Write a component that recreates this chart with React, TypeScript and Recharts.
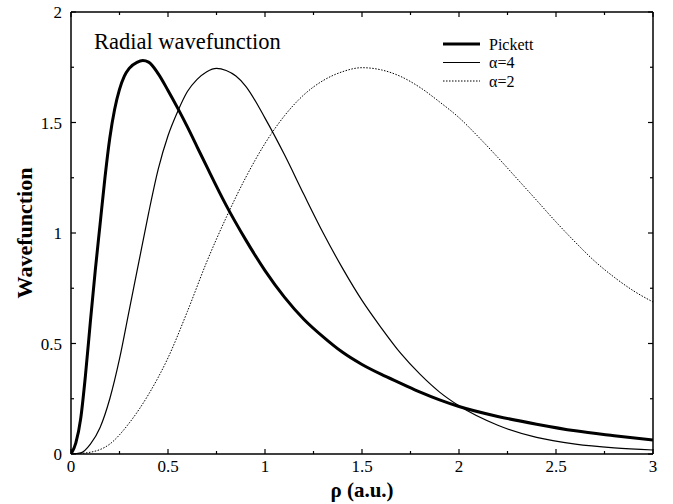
import React from "react";
import { LineChart, Line, XAxis, YAxis } from "recharts";

// Pickett wavefunction
const pickettX = [0, 0.025, 0.05, 0.075, 0.1, 0.125, 0.15, 0.175, 0.2, 0.225, 0.25, 0.275, 0.3, 0.34, 0.37, 0.4, 0.45, 0.5, 0.55, 0.6, 0.65, 0.7, 0.8, 0.9, 1.0, 1.1, 1.2, 1.3, 1.4, 1.5, 1.6, 1.7, 1.8, 1.9, 2.0, 2.2, 2.4, 2.6, 2.8, 3.0];
const pickettY = [0, 0.05, 0.16, 0.36, 0.6, 0.83, 1.04, 1.25, 1.43, 1.56, 1.65, 1.71, 1.745, 1.772, 1.78, 1.773, 1.72, 1.645, 1.565, 1.48, 1.39, 1.3, 1.125, 0.97, 0.83, 0.71, 0.61, 0.53, 0.46, 0.405, 0.36, 0.32, 0.28, 0.245, 0.215, 0.17, 0.135, 0.105, 0.083, 0.063];

// alpha = 4
const alpha4X = [0, 0.05, 0.1, 0.15, 0.2, 0.25, 0.3, 0.35, 0.4, 0.45, 0.5, 0.55, 0.6, 0.65, 0.7, 0.75, 0.8, 0.85, 0.9, 1.0, 1.1, 1.2, 1.3, 1.4, 1.5, 1.6, 1.7, 1.8, 1.9, 2.0, 2.2, 2.4, 2.6, 2.8, 3.0];
const alpha4Y = [0, 0.005, 0.045, 0.12, 0.25, 0.43, 0.65, 0.87, 1.09, 1.29, 1.44, 1.55, 1.64, 1.695, 1.73, 1.745, 1.735, 1.71, 1.665, 1.52, 1.355, 1.175, 1.0, 0.84, 0.695, 0.57, 0.455, 0.36, 0.28, 0.218, 0.13, 0.075, 0.045, 0.028, 0.018];

// alpha = 2
const alpha2X = [0, 0.1, 0.2, 0.3, 0.4, 0.5, 0.6, 0.7, 0.8, 0.9, 1.0, 1.1, 1.2, 1.3, 1.4, 1.5, 1.6, 1.7, 1.8, 1.9, 2.0, 2.1, 2.2, 2.3, 2.4, 2.5, 2.6, 2.7, 2.8, 2.9, 3.0];
const alpha2Y = [0, 0.008, 0.045, 0.14, 0.27, 0.435, 0.645, 0.87, 1.07, 1.25, 1.405, 1.53, 1.625, 1.69, 1.73, 1.748, 1.738, 1.708, 1.658, 1.593, 1.522, 1.435, 1.342, 1.245, 1.148, 1.05, 0.958, 0.872, 0.8, 0.738, 0.688];

const xTicks = [0, 0.25, 0.5, 0.75, 1, 1.25, 1.5, 1.75, 2, 2.25, 2.5, 2.75, 3];
const yTicks = [0, 0.25, 0.5, 0.75, 1, 1.25, 1.5, 1.75, 2];

const seriesNames = ["Pickett", "\u03b1=4", "\u03b1=2"];

const toPoints = (xs: number[], ys: number[]) => xs.map((x, i) => ({ x, y: ys[i] }));

const pickettData = toPoints(pickettX, pickettY);
const alpha4Data = toPoints(alpha4X, alpha4Y);
const alpha2Data = toPoints(alpha2X, alpha2Y);

const FONT = "'Liberation Serif', 'DejaVu Serif', serif";

const isMajor = (v: number) => Math.abs(v * 2 - Math.round(v * 2)) < 1e-6;

const BottomTick = (props: any) => {
  const { x, y, payload } = props;
  const v = payload.value;
  const major = isMajor(v);
  return (
    <g>
      <line x1={x} x2={x} y1={y} y2={y - (major ? 5 : 3)} stroke="#000" strokeWidth={1.2} />
      {major && (
        <text x={x} y={y + 18} textAnchor="middle" fontSize={17} fontFamily={FONT} fill="#000">
          {String(v)}
        </text>
      )}
    </g>
  );
};

const TopTick = (props: any) => {
  const { x, y, payload } = props;
  const major = isMajor(payload.value);
  return <line x1={x} x2={x} y1={y} y2={y + (major ? 5 : 3)} stroke="#000" strokeWidth={1.2} />;
};

const LeftTick = (props: any) => {
  const { x, y, payload } = props;
  const v = payload.value;
  const major = isMajor(v);
  return (
    <g>
      <line x1={x} x2={x + (major ? 5 : 3)} y1={y} y2={y} stroke="#000" strokeWidth={1.2} />
      {major && (
        <text x={x - 9} y={y + 6} textAnchor="end" fontSize={17} fontFamily={FONT} fill="#000">
          {String(v)}
        </text>
      )}
    </g>
  );
};

const RightTick = (props: any) => {
  const { x, y, payload } = props;
  const major = isMajor(payload.value);
  return <line x1={x} x2={x - (major ? 5 : 3)} y1={y} y2={y} stroke="#000" strokeWidth={1.2} />;
};

const legendRows = [
  { name: seriesNames[0], w: 3, dash: undefined as string | undefined },
  { name: seriesNames[1], w: 1.2, dash: undefined as string | undefined },
  { name: seriesNames[2], w: 1, dash: "1.5 1.5" },
];

export default function App() {
  return (
    <div style={{ position: "absolute", left: 0, top: 0, width: 673, height: 504, background: "#fff" }}>
      <LineChart width={673} height={504} margin={{ top: 11, right: 19, bottom: 0, left: 0 }}>
        <XAxis
          xAxisId="bottom"
          dataKey="x"
          type="number"
          domain={[0, 3]}
          ticks={xTicks}
          interval={0}
          height={50}
          tickSize={0}
          tickMargin={0}
          tickLine={false}
          tick={<BottomTick />}
          axisLine={{ stroke: "#000", strokeWidth: 1.5 }}
          allowDataOverflow
          label={{
            content: (p: any) => {
              const vb = p.viewBox;
              return (
                <text x={vb.x + vb.width / 2} y={vb.y + 43} textAnchor="middle" fontSize={21} fontWeight="bold" fontFamily={FONT} fill="#000">
                  {"\u03c1 (a.u.)"}
                </text>
              );
            },
          }}
        />
        <XAxis
          xAxisId="top"
          orientation="top"
          dataKey="x"
          type="number"
          domain={[0, 3]}
          ticks={xTicks}
          interval={0}
          height={1}
          tickSize={0}
          tickMargin={0}
          tickLine={false}
          tick={<TopTick />}
          axisLine={{ stroke: "#000", strokeWidth: 1.5 }}
          allowDataOverflow
        />
        <YAxis
          yAxisId="left"
          type="number"
          domain={[0, 2]}
          ticks={yTicks}
          interval={0}
          width={71}
          tickSize={0}
          tickMargin={0}
          tickLine={false}
          tick={<LeftTick />}
          axisLine={{ stroke: "#000", strokeWidth: 1.5 }}
          allowDataOverflow
          label={{
            content: (p: any) => {
              const vb = p.viewBox;
              const cx = 24;
              const cy = vb.y + vb.height / 2;
              return (
                <text x={cx} y={cy} transform={`rotate(-90 ${cx} ${cy})`} textAnchor="middle" dominantBaseline="central" fontSize={22} fontWeight="bold" fontFamily={FONT} fill="#000">
                  Wavefunction
                </text>
              );
            },
          }}
        />
        <YAxis
          yAxisId="right"
          orientation="right"
          type="number"
          domain={[0, 2]}
          ticks={yTicks}
          interval={0}
          width={1}
          tickSize={0}
          tickMargin={0}
          tickLine={false}
          tick={<RightTick />}
          axisLine={{ stroke: "#000", strokeWidth: 1.5 }}
          allowDataOverflow
        />
        <Line
          xAxisId="bottom"
          yAxisId="left"
          data={pickettData}
          dataKey="y"
          name={seriesNames[0]}
          type="monotone"
          stroke="#000"
          strokeWidth={3}
          dot={false}
          isAnimationActive={false}
        />
        <Line
          xAxisId="bottom"
          yAxisId="left"
          data={alpha4Data}
          dataKey="y"
          name={seriesNames[1]}
          type="monotone"
          stroke="#000"
          strokeWidth={1.2}
          dot={false}
          isAnimationActive={false}
        />
        <Line
          xAxisId="bottom"
          yAxisId="left"
          data={alpha2Data}
          dataKey="y"
          name={seriesNames[2]}
          type="monotone"
          stroke="#000"
          strokeWidth={1}
          strokeDasharray="1.5 1.5"
          dot={false}
          isAnimationActive={false}
        />
      </LineChart>
      <div
        style={{
          position: "absolute",
          left: 94,
          top: 29,
          fontFamily: FONT,
          fontSize: 22.5,
          color: "#000",
          lineHeight: "26px",
          whiteSpace: "nowrap",
        }}
      >
        Radial wavefunction
      </div>
      <svg width={150} height={60} style={{ position: "absolute", left: 443, top: 36 }}>
        {legendRows.map((r, i) => (
          <g key={r.name}>
            <line x1={0} x2={37} y1={8 + i * 18.5} y2={8 + i * 18.5} stroke="#000" strokeWidth={r.w} strokeDasharray={r.dash} />
            <text x={46} y={13.5 + i * 18.5} fontSize={16} fontFamily={FONT} fill="#000">
              {r.name}
            </text>
          </g>
        ))}
      </svg>
    </div>
  );
}
